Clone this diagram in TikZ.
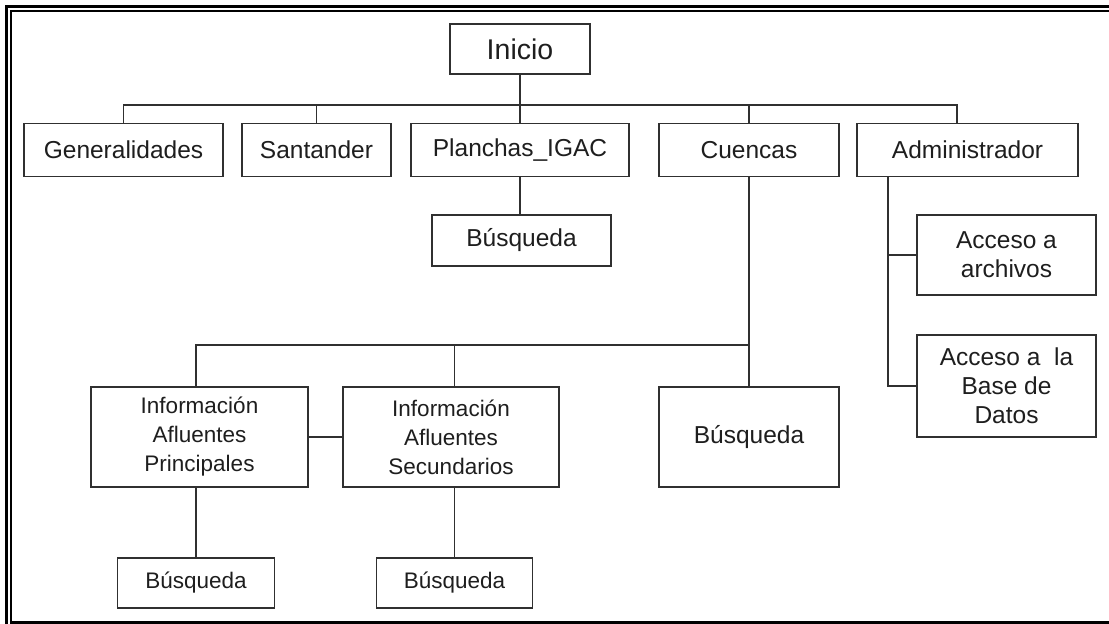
\documentclass[tikz,border=0pt]{standalone}
\usepackage{fontspec}
\setmainfont{Liberation Sans}
\definecolor{ln}{HTML}{303030}
\definecolor{tx}{HTML}{1E1E1E}
\tikzset{
  box/.style={draw=ln, line width=1.8pt, rectangle, inner sep=0pt, align=center, text=tx,
    font=\fontsize{24.5}{29}\selectfont},
  smallbox/.style={box, font=\fontsize{22.5}{29}\selectfont},
  conn/.style={draw=ln, line width=1.7pt},
  frame/.style={draw=black, line width=2.2pt}
}
\begin{document}
\begin{tikzpicture}[x=1pt,y=-1pt]
\useasboundingbox (0,0) rectangle (1109,624);
\fill[white] (0,0) rectangle (1109,624);
% page frame
\draw[frame] (6.5,624) -- (6.5,6.5) -- (1109,6.5);
\draw[frame] (1109,10.75) -- (10.75,10.75) -- (10.75,622.5) -- (1109,622.5);
% nodes
\node[box, minimum width=140pt, minimum height=50pt, font=\fontsize{28.5}{32}\selectfont] (ini) at (520,49) {Inicio};
\node[box, minimum width=199pt, minimum height=53pt] (gen) at (123.5,150) {Generalidades};
\node[box, minimum width=149pt, minimum height=53pt] (san) at (316.5,150) {Santander};
\node[box, minimum width=218pt, minimum height=53pt] (pla) at (520,150) {Planchas\_IGAC};
\node[box, minimum width=180pt, minimum height=53pt] (cue) at (749,150) {Cuencas};
\node[box, minimum width=221pt, minimum height=53pt] (adm) at (967.5,150) {Administrador};
\node[box, minimum width=179pt, minimum height=51pt] (plab) at (521.5,240.5) {Búsqueda};
\node[box, minimum width=179pt, minimum height=80pt] (acc1) at (1006.5,255) {Acceso a\\archivos};
\node[box, minimum width=179pt, minimum height=102pt] (acc2) at (1006.5,386) {Acceso a\ \ la\\Base de\\Datos};
\node[smallbox, minimum width=217pt, minimum height=100pt] (iap) at (199.5,437) {Información\\Afluentes\\Principales};
\node[smallbox, minimum width=216pt, minimum height=100pt] (ias) at (451,437) {Información\\Afluentes\\Secundarios};
\node[box, minimum width=180pt, minimum height=100pt] (cub) at (749,437) {Búsqueda};
\node[smallbox, minimum width=157pt, minimum height=50pt] (ibp) at (196,583) {Búsqueda};
\node[smallbox, minimum width=156pt, minimum height=50pt] (ibs) at (454.5,583) {Búsqueda};
% bus coordinates
\coordinate (b1) at (520,105);
\coordinate (b2) at (749,345);
% top tree
\draw[conn] (ini.south) -- (b1);
\draw[conn] (gen.north) -- (gen.north |- b1) -- ([xshift=-10.5pt]adm.north |- b1) -- ([xshift=-10.5pt]adm.north);
\draw[conn] (san.north) -- (san.north |- b1);
\draw[conn] (pla.north) -- (pla.north |- b1);
\draw[conn] (cue.north) -- (cue.north |- b1);
\draw[conn] (pla.south) -- (pla.south |- plab.north);
% cuencas tree
\draw[conn] (cue.south) -- (cub.north);
\draw[conn] (ibp.north |- iap.north) -- (ibp.north |- b2) -- (b2);
\draw[conn] (ibs.north |- ias.north) -- (ibs.north |- b2);
\draw[conn] (iap.east) -- (ias.west);
\draw[conn] (ibp.north |- iap.south) -- (ibp.north);
\draw[conn] (ibs.north |- ias.south) -- (ibs.north);
% admin tree
\draw[conn] ([xshift=-79.5pt]adm.south) |- (acc2.west);
\draw[conn] ([xshift=-79.5pt]adm.south |- acc1.west) -- (acc1.west);
\end{tikzpicture}
\end{document}
